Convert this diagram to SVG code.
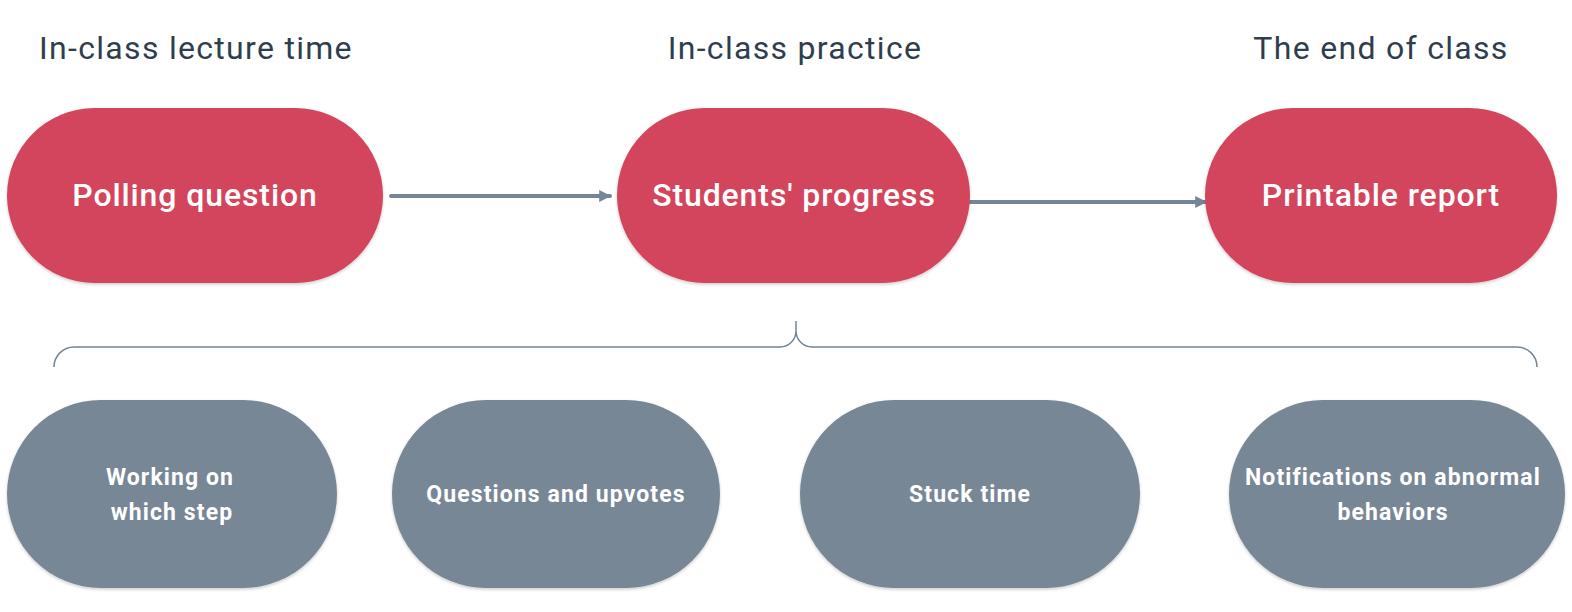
<svg xmlns="http://www.w3.org/2000/svg" width="1572" height="612" viewBox="0 0 1572 612">
<defs>
<style>
.title{font-family:Roboto,"Liberation Sans",sans-serif;font-size:32px;fill:#2f3e4e;text-anchor:middle;letter-spacing:1.3px}
.red{fill:#d3455b}
.gray{fill:#788796}
.rt{font-family:Roboto,"Liberation Sans",sans-serif;font-size:32px;font-weight:500;fill:#fff;text-anchor:middle;letter-spacing:0.9px}
.gt{font-family:Roboto,"Liberation Sans",sans-serif;font-size:23px;font-weight:700;fill:#fff;text-anchor:middle;letter-spacing:1.1px}
.conn{stroke:#748595;stroke-width:4;fill:none;stroke-linecap:round}
.brace{stroke:#748595;stroke-width:1.5;fill:none}
</style>
<marker id="ah" viewBox="0 0 10 10" refX="9" refY="5" markerWidth="3" markerHeight="3" orient="auto">
<path d="M0,0 L10,5 L0,10 z" fill="#748595"/>
</marker>
<filter id="sh" x="-10%" y="-10%" width="120%" height="130%">
<feDropShadow dx="0" dy="1.5" stdDeviation="1.5" flood-color="#000" flood-opacity="0.2"/>
</filter>
</defs>
<rect width="1572" height="612" fill="#fff"/>
<g id="titles">
<text class="title" x="196" y="59">In-class lecture time</text>
<text class="title" x="795" y="59">In-class practice</text>
<text class="title" x="1381" y="59">The end of class</text>
</g>
<g id="connectors">
<line class="conn" x1="391" y1="196" x2="610" y2="196" marker-end="url(#ah)"/>
<line class="conn" x1="970" y1="202" x2="1206" y2="202" marker-end="url(#ah)"/>
<path class="brace" d="M54,367 A20,20 0 0 1 74,347 L780,347 A16,16 0 0 0 796,331 L796,321 M796,331 A16,16 0 0 0 812,347 L1517,347 A20,20 0 0 1 1537,367"/>
</g>
<g id="node-polling">
<rect class="red" filter="url(#sh)" x="7" y="108" width="376" height="175" rx="87.5"/>
<text class="rt" x="195" y="206">Polling question</text>
</g>
<g id="node-progress">
<rect class="red" filter="url(#sh)" x="617" y="108" width="353" height="175" rx="87.5"/>
<text class="rt" x="794" y="206">Students' progress</text>
</g>
<g id="node-report">
<rect class="red" filter="url(#sh)" x="1205" y="108" width="352" height="175" rx="87.5"/>
<text class="rt" x="1381" y="206">Printable report</text>
</g>
<g id="node-step">
<rect class="gray" filter="url(#sh)" x="7" y="400" width="330" height="188" rx="94"/>
<text class="gt" x="170" y="485">Working on</text>
<text class="gt" x="172" y="520">which step</text>
</g>
<g id="node-questions">
<rect class="gray" filter="url(#sh)" x="392" y="400" width="328" height="188" rx="94"/>
<text class="gt" x="556" y="502">Questions and upvotes</text>
</g>
<g id="node-stuck">
<rect class="gray" filter="url(#sh)" x="800" y="400" width="340" height="188" rx="94"/>
<text class="gt" x="970" y="502">Stuck time</text>
</g>
<g id="node-notify">
<rect class="gray" filter="url(#sh)" x="1229" y="400" width="336" height="188" rx="94"/>
<text class="gt" x="1393" y="485">Notifications on abnormal</text>
<text class="gt" x="1393" y="520">behaviors</text>
</g>
</svg>
